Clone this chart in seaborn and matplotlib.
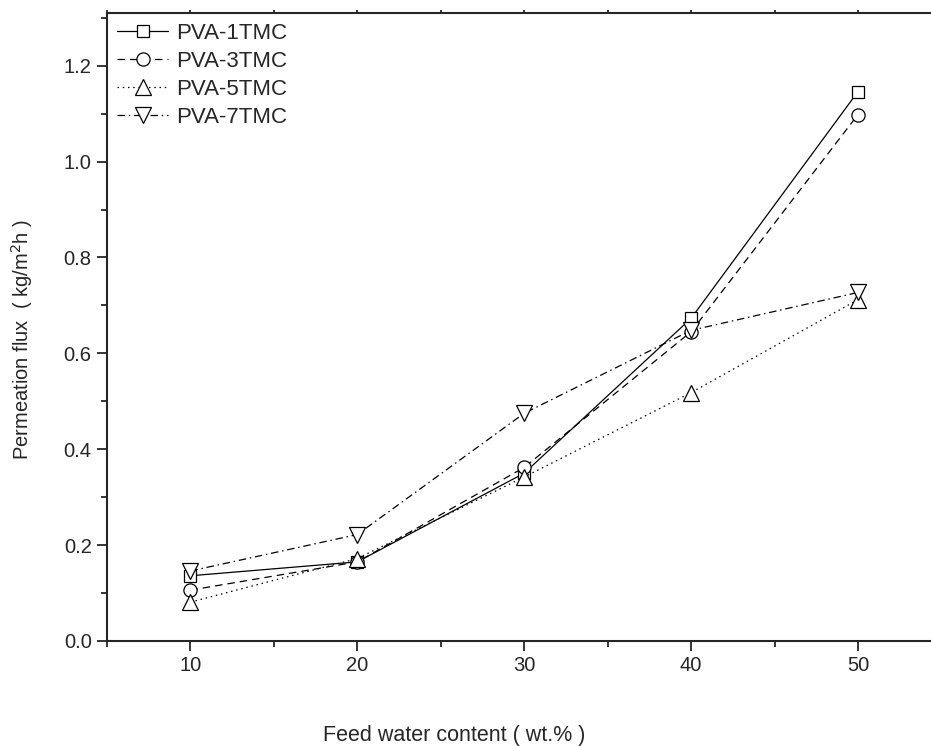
import numpy as np
import pandas as pd
import matplotlib
matplotlib.use('Agg')
import matplotlib.pyplot as plt
from matplotlib.ticker import MultipleLocator
import seaborn as sns

#feed water content (wt.%)
water = [10, 20, 30, 40, 50]

#permeation flux for each membrane
flux_1tmc = [0.136, 0.165, 0.350, 0.673, 1.146]
flux_3tmc = [0.106, 0.165, 0.362, 0.645, 1.098]
flux_5tmc = [0.081, 0.172, 0.342, 0.518, 0.712]
flux_7tmc = [0.146, 0.222, 0.475, 0.648, 0.727]

series_names = ['PVA-1TMC', 'PVA-3TMC', 'PVA-5TMC', 'PVA-7TMC']
series_vals = [flux_1tmc, flux_3tmc, flux_5tmc, flux_7tmc]

#style of each line: marker, linestyle, marker size
style_dict = {'PVA-1TMC': ('s', '-', 8.5),
              'PVA-3TMC': ('o', (0, (6, 4)), 9.5),
              'PVA-5TMC': ('^', (0, (1.2, 3)), 11),
              'PVA-7TMC': ('v', (0, (6, 3, 1.2, 3)), 11)}

sns.set_style('ticks')
plt.rcParams['font.family'] = ['Liberation Sans', 'DejaVu Sans']

fig = plt.figure(figsize=(9.31, 7.46), dpi=100)
ax = fig.add_axes([0.1149, 0.1408, 0.8963, 0.8418])

for name, vals in zip(series_names, series_vals):
    df = pd.DataFrame({'water': water, 'flux': vals})
    marker, ls, ms = style_dict[name]
    sns.lineplot(x='water', y='flux', data=df, ax=ax, label=name, color='black',
                 linewidth=0.9, linestyle=ls, marker=marker, markersize=ms,
                 markerfacecolor='white', markeredgecolor='black', markeredgewidth=0.9)

ax.set_xlim(5, 55)
ax.set_ylim(0, 1.31)
ax.xaxis.set_major_locator(MultipleLocator(10))
ax.xaxis.set_minor_locator(MultipleLocator(5))
ax.yaxis.set_major_locator(MultipleLocator(0.2))
ax.yaxis.set_minor_locator(MultipleLocator(0.1))
ax.yaxis.set_major_formatter(matplotlib.ticker.FormatStrFormatter('%.1f'))

for side in ['left', 'bottom', 'top']:
    ax.spines[side].set_linewidth(1.5)
ax.spines['right'].set_visible(False)

ax.tick_params(which='major', direction='out', length=7.5, width=1.3, labelsize=14.5)
ax.tick_params(which='minor', direction='out', length=4, width=1.3)
ax.xaxis.set_tick_params(which='both', top=True)
for t in ax.xaxis.get_major_ticks() + ax.xaxis.get_minor_ticks():
    t.tick2line.set_markersize(2)

ax.set_xlabel('Feed water content ( wt.% )', fontsize=15.5)
ax.set_ylabel('Permeation flux  ( kg/m$^2$h )', fontsize=14.5)
ax.xaxis.set_label_coords(0.416, -0.134)
ax.yaxis.set_label_coords(-0.086, 0.48)

ax.legend(loc='upper left', frameon=False, fontsize=16, handlelength=2.3,
          handletextpad=0.36, labelspacing=0.31, borderaxespad=0.25, borderpad=0.2)

fig.savefig('out.png', dpi=100)
